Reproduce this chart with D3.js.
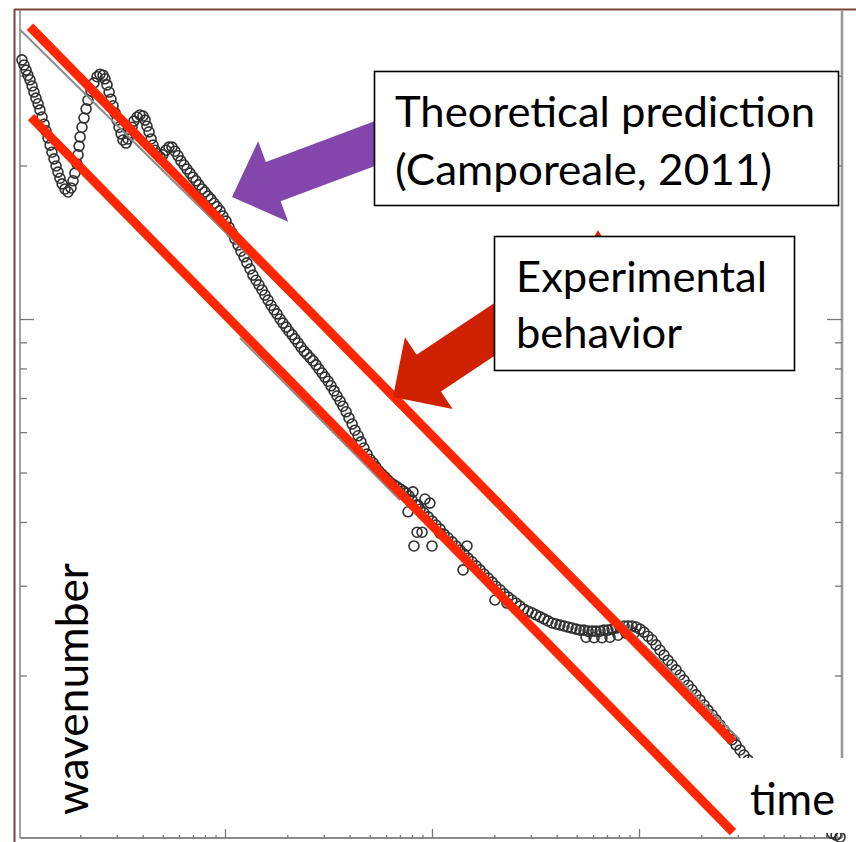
<!DOCTYPE html>
<html>
<head>
<meta charset="utf-8">
<script src="https://cdn.jsdelivr.net/npm/d3@7"></script>
<style>
  html, body { margin: 0; padding: 0; background: #fff; }
  svg { display: block; }
</style>
</head>
<body>
<svg id="chart" width="856" height="842"></svg>
<script>
// Measured spectrum peak: log10(time) and log10(wavenumber) for each sample
const logTime = [
  0.019,0.029,0.039,0.048,0.058,0.068,0.077,0.087,0.097,0.106,0.116,0.126,0.135,0.145,0.155,0.164,0.174,0.184,0.193,0.203,0.213,0.227,0.242,
  0.256,0.266,0.275,0.285,0.290,0.295,0.300,0.309,0.319,0.329,0.338,0.353,0.367,0.382,0.396,0.411,
  0.420,0.430,0.440,0.449,0.459,0.469,0.478,0.488,0.498,0.507,0.522,0.531,0.541,0.551,0.560,0.575,0.589,0.604,
  0.614,0.623,0.633,0.643,0.652,0.662,0.671,0.686,0.700,0.715,0.729,0.744,
  0.758,0.773,0.787,0.802,0.816,0.831,0.845,0.860,0.874,0.889,0.903,0.918,0.932,0.947,0.961,0.976,0.990,1.005,1.019,1.034,1.048,1.063,1.077,1.092,1.106,1.121,
  1.135,1.150,1.164,1.179,1.193,1.208,1.222,1.237,1.251,1.266,1.280,1.295,1.309,1.324,1.338,1.353,1.367,1.382,1.396,1.411,1.425,1.440,1.454,1.469,1.483,1.498,
  1.512,1.527,1.541,1.556,1.570,1.585,1.599,1.614,1.628,1.643,1.657,1.671,1.686,1.700,1.715,1.729,1.744,1.758,1.773,1.787,1.802,1.816,1.831,1.845,1.860,1.874,1.889,
  1.908,1.966,1.990,1.884,1.928,1.952,1.913,2.000,2.039,1.932,
  1.903,1.923,1.942,1.961,1.981,2.000,2.019,2.039,2.058,2.077,2.097,2.116,2.135,2.155,2.174,2.193,2.213,2.232,2.251,2.271,2.290,2.309,2.329,2.348,2.367,2.386,
  2.406,2.425,2.444,2.464,2.483,2.502,2.522,2.541,2.560,2.580,2.599,2.618,2.638,2.657,2.676,2.696,
  2.150,2.304,2.362,2.169,
  2.715,2.734,2.754,2.773,2.792,2.812,2.831,2.850,2.870,2.889,2.908,2.928,2.947,2.966,2.986,3.005,3.024,3.043,3.063,3.082,3.101,3.121,3.140,3.159,3.179,3.198,
  3.217,3.237,3.256,3.275,3.295,3.314,3.333,3.353,3.372,3.391,3.411,3.430,3.449,3.469,3.488,3.507,3.527,3.546,
  3.932,3.952,3.971,
  2.744,2.783,2.821,2.860,2.899,2.937,2.976
];
const logWavenumber = [
  0.508,0.498,0.488,0.478,0.469,0.457,0.445,0.433,0.422,0.410,0.396,0.382,0.369,0.355,0.341,0.327,0.314,0.300,0.288,0.276,0.265,0.255,0.249,
  0.257,0.271,0.286,0.304,0.322,0.339,0.357,0.376,0.394,0.412,0.429,0.447,0.463,0.475,0.480,0.478,
  0.471,0.459,0.445,0.431,0.418,0.404,0.390,0.376,0.363,0.351,0.345,0.353,0.365,0.376,0.388,0.396,0.400,0.398,
  0.390,0.378,0.367,0.353,0.341,0.331,0.324,0.318,0.322,0.331,0.337,0.337,
  0.329,0.320,0.310,0.302,0.294,0.286,0.278,0.271,0.263,0.255,0.249,0.241,0.235,0.227,0.220,0.212,0.202,0.192,0.180,0.169,0.157,0.145,0.133,0.122,0.110,0.098,
  0.086,0.076,0.067,0.057,0.047,0.037,0.027,0.018,0.010,0.000,-0.008,-0.016,-0.024,-0.031,-0.039,-0.047,-0.055,-0.063,-0.069,-0.076,-0.082,-0.090,-0.098,-0.106,-0.114,-0.122,
  -0.131,-0.141,-0.151,-0.161,-0.171,-0.182,-0.194,-0.206,-0.218,-0.229,-0.241,-0.253,-0.265,-0.275,-0.282,-0.290,-0.298,-0.304,-0.310,-0.316,-0.322,-0.325,-0.329,-0.333,-0.337,-0.341,-0.347,
  -0.339,-0.353,-0.361,-0.378,-0.418,-0.418,-0.445,-0.445,-0.420,-0.365,
  -0.355,-0.365,-0.373,-0.380,-0.388,-0.396,-0.404,-0.412,-0.422,-0.429,-0.437,-0.445,-0.453,-0.461,-0.469,-0.476,-0.484,-0.492,-0.500,-0.508,-0.516,-0.524,-0.531,-0.539,-0.545,-0.551,
  -0.557,-0.563,-0.569,-0.573,-0.576,-0.580,-0.584,-0.588,-0.592,-0.596,-0.598,-0.600,-0.602,-0.604,-0.606,-0.608,
  -0.492,-0.551,-0.557,-0.445,
  -0.610,-0.610,-0.612,-0.612,-0.612,-0.612,-0.610,-0.610,-0.608,-0.606,-0.604,-0.602,-0.602,-0.602,-0.604,-0.608,-0.614,-0.622,-0.629,-0.639,-0.649,-0.659,-0.669,-0.678,-0.688,-0.698,
  -0.708,-0.718,-0.727,-0.737,-0.747,-0.757,-0.767,-0.776,-0.786,-0.796,-0.806,-0.816,-0.825,-0.835,-0.845,-0.855,-0.865,-0.875,
  -1.008,-1.012,-1.016,
  -0.624,-0.625,-0.625,-0.624,-0.620,-0.616,-0.616
];

// Power-law guide lines (endpoints, log10 units)
const theoryLineLogT = [0.058, 3.454];
const theoryLineLogK = [0.573, -0.829];
const experimentLineLogT = [0.063, 3.454];
const experimentLineLogK = [0.396, -1.006];
const fitUpperLogT = [0.010, 3.488];
const fitUpperLogK = [0.567, -0.825];
const fitLowerLogT = [1.072, 1.845];
const fitLowerLogK = [-0.037, -0.355];

// Annotation text
const theoryLabel = ["Theoretical prediction", "(Camporeale, 2011)"];
const experimentLabel = ["Experimental", "behavior"];
const xTitle = "time";
const yTitle = "wavenumber";

const svg = d3.select("#chart");
const plot = { left: 20, right: 842, top: 10, bottom: 838 };

const xScale = d3.scaleLog().domain([1, 1e4]).range([18, 846]);
const yScale = d3.scaleLog().domain([0.1, 1]).range([829, 319]);
const px = v => xScale(10 ** v);
const py = v => yScale(10 ** v);

const defs = svg.append("defs");
defs.append("filter").attr("id", "soft").attr("x", "-5%").attr("y", "-5%").attr("width", "110%").attr("height", "110%")
  .append("feGaussianBlur").attr("stdDeviation", 0.7);

// outer frame
const frame = svg.append("g").attr("stroke", "#7a4636").attr("stroke-width", 2);
frame.append("line").attr("x1", 14.5).attr("y1", 9).attr("x2", 14.5).attr("y2", 842);
frame.append("line").attr("x1", 14).attr("y1", 9.5).attr("x2", 856).attr("y2", 9.5);

// axes box
const axes = svg.append("g").attr("filter", "url(#soft)");
axes.append("line").attr("x1", plot.left).attr("y1", plot.top).attr("x2", plot.left).attr("y2", plot.bottom)
  .attr("stroke", "#8a8a8a").attr("stroke-width", 1.6);
axes.append("line").attr("x1", plot.left).attr("y1", plot.bottom).attr("x2", plot.right).attr("y2", plot.bottom)
  .attr("stroke", "#8a8a8a").attr("stroke-width", 1.8);
axes.append("line").attr("x1", plot.right).attr("y1", plot.top).attr("x2", plot.right).attr("y2", plot.bottom)
  .attr("stroke", "#9a9a9a").attr("stroke-width", 2.6);

const isMajor = v => Math.abs(Math.log10(v) - Math.round(Math.log10(v))) < 1e-9;
const xTicks = xScale.ticks().filter(v => xScale(v) > plot.left + 2 && xScale(v) < plot.right - 2);
const yTicks = d3.scaleLog().domain([0.1, 4]).ticks().filter(v => yScale(v) > plot.top + 6 && yScale(v) < plot.bottom - 20);

function styleTicks(g, minor, major) {
  g.select(".domain").remove();
  g.selectAll(".tick text").remove();
  g.selectAll(".tick line").attr("stroke", "#777").attr("stroke-width", 1.3);
  g.selectAll(".tick").each(function(d) {
    const line = d3.select(this).select("line");
    const len = isMajor(d) ? major : minor;
    if (line.attr("x2") !== null && +line.attr("x2") !== 0) line.attr("x2", Math.sign(+line.attr("x2")) * len);
    if (line.attr("y2") !== null && +line.attr("y2") !== 0) line.attr("y2", Math.sign(+line.attr("y2")) * len);
  });
}
axes.append("g").attr("transform", `translate(0,${plot.bottom})`)
  .call(d3.axisTop(xScale).tickValues(xTicks).tickSize(4))
  .call(g => styleTicks(g, 3, 9));
axes.append("g").attr("transform", `translate(${plot.left},0)`)
  .call(d3.axisRight(yScale).tickValues(yTicks).tickSize(7))
  .call(g => styleTicks(g, 7, 14));
axes.append("g").attr("transform", `translate(${plot.right},0)`)
  .call(d3.axisLeft(yScale).tickValues(yTicks).tickSize(7))
  .call(g => styleTicks(g, 7, 15));

// data circles and fitted gray lines
const dataLayer = svg.append("g").attr("filter", "url(#soft)");
const samples = logTime.map((t, i) => ({ t, k: logWavenumber[i] }));
dataLayer.append("g").selectAll("circle").data(samples).join("circle")
  .attr("cx", d => px(d.t)).attr("cy", d => py(d.k)).attr("r", 5)
  .attr("fill", "none").attr("stroke", "#303030").attr("stroke-width", 1.6);

const seg = (lt, lk) => d3.line()(lt.map((t, i) => [px(t), py(lk[i])]));
dataLayer.append("path").attr("d", seg(fitUpperLogT, fitUpperLogK))
  .attr("stroke", "#8c8c8c").attr("stroke-width", 2).attr("fill", "none");
dataLayer.append("path").attr("d", seg(fitLowerLogT, fitLowerLogK))
  .attr("stroke", "#8c8c8c").attr("stroke-width", 2).attr("fill", "none");

// x-axis title on a white patch
svg.append("rect").attr("x", 738).attr("y", 758).attr("width", 118).attr("height", 75).attr("fill", "#fff");
svg.append("text").attr("x", 750).attr("y", 815).text(xTitle)
  .attr("font-family", "Lato, 'Open Sans', sans-serif").attr("font-size", 45).attr("fill", "#000")
  .attr("textLength", 85).attr("lengthAdjust", "spacingAndGlyphs");

// red power-law lines
[[theoryLineLogT, theoryLineLogK], [experimentLineLogT, experimentLineLogK]].forEach(([lt, lk]) => {
  svg.append("path").attr("d", seg(lt, lk))
    .attr("stroke", "#ff2600").attr("stroke-width", 9).attr("fill", "none").attr("stroke-linecap", "butt");
});

// y-axis title
svg.append("text").attr("transform", "translate(88,689) rotate(-90)").attr("text-anchor", "middle")
  .text(yTitle).attr("font-family", "Lato, 'Open Sans', sans-serif").attr("font-size", 45).attr("fill", "#000")
  .attr("textLength", 252).attr("lengthAdjust", "spacingAndGlyphs");

// block arrows pointing at the lines
function blockArrow(tail, tip, shaftHalf, headHalf, headLen) {
  const dx = tip[0] - tail[0], dy = tip[1] - tail[1];
  const L = Math.hypot(dx, dy), ux = dx / L, uy = dy / L, nx = -uy, ny = ux;
  const bx = tip[0] - ux * headLen, by = tip[1] - uy * headLen;
  return [
    [tail[0] + nx * shaftHalf, tail[1] + ny * shaftHalf],
    [bx + nx * shaftHalf, by + ny * shaftHalf],
    [bx + nx * headHalf, by + ny * headHalf],
    tip,
    [bx - nx * headHalf, by - ny * headHalf],
    [bx - nx * shaftHalf, by - ny * shaftHalf],
    [tail[0] - nx * shaftHalf, tail[1] - ny * shaftHalf]
  ];
}
svg.append("polygon").attr("points", blockArrow([395, 136], [232, 197], 21, 43, 44).join(" ")).attr("fill", "#8246ac");
svg.append("polygon").attr("points", blockArrow([510, 319], [393, 397], 22, 43, 43).join(" ")).attr("fill", "#cf2000");
svg.append("polygon").attr("points", "594,237 598,230 602,237").attr("fill", "#e02000");

// label boxes
function labelBox(x, y, w, h, lines, tx, baselines, widths) {
  const g = svg.append("g");
  g.append("rect").attr("x", x).attr("y", y).attr("width", w).attr("height", h)
    .attr("fill", "#fff").attr("stroke", "#000").attr("stroke-width", 1.6);
  lines.forEach((s, i) => {
    g.append("text").attr("x", tx).attr("y", baselines[i]).text(s)
      .attr("font-family", "Lato, 'Open Sans', sans-serif").attr("font-size", 42).attr("fill", "#000")
      .attr("textLength", widths[i]).attr("lengthAdjust", "spacingAndGlyphs");
  });
}
labelBox(374.5, 71.5, 464, 134, theoryLabel, 395, [127, 185], [420, 377]);
labelBox(494.5, 236.5, 300, 134, experimentLabel, 516, [292, 348], [251, 166]);
</script>
</body>
</html>
